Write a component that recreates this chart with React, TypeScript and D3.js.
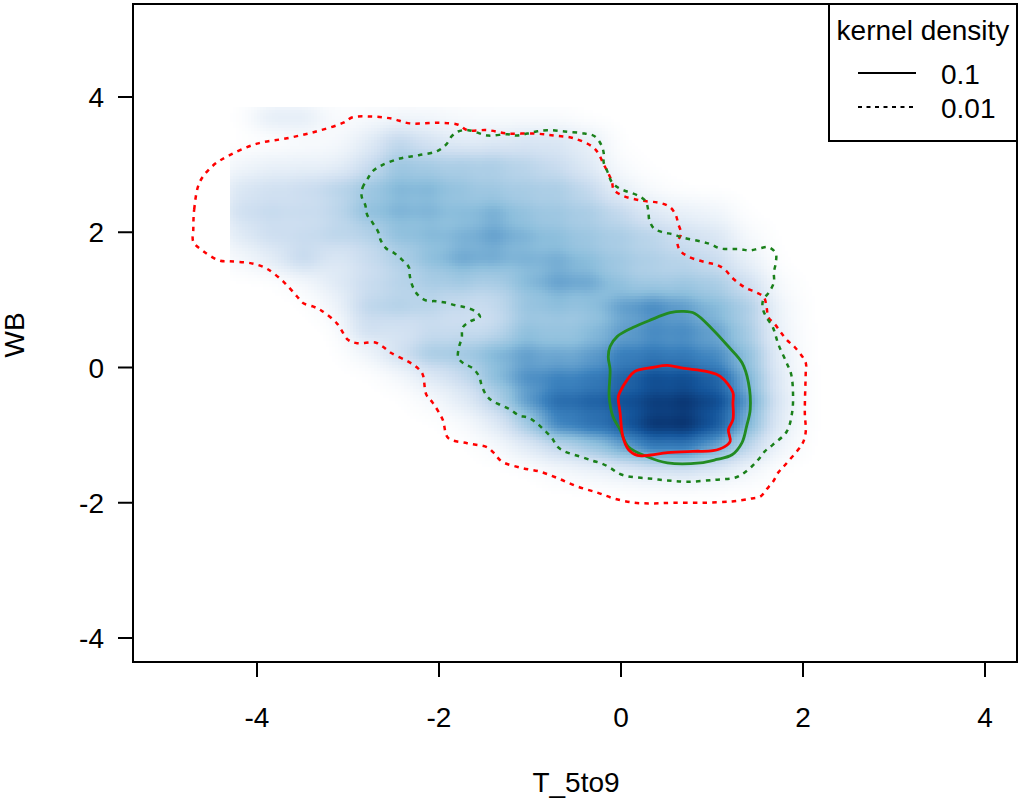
import React from "react";
import * as d3 from "d3";

type P = [number, number];
const W = 1024, H = 806;
const xTicks = [-4, -2, 0, 2, 4];
const yTicks = [-4, -2, 0, 2, 4];

const red01: P[] = [[-4.70,2.04],[-4.69,2.34],[-4.63,2.74],[-4.48,2.99],[-4.30,3.14],[-4.00,3.31],[-3.67,3.39],[-3.35,3.49],[-3.05,3.62],[-2.95,3.70],[-2.73,3.71],[-2.52,3.68],[-2.32,3.61],[-1.99,3.62],[-1.79,3.59],[-1.69,3.51],[-1.47,3.51],[-1.24,3.46],[-0.95,3.46],[-0.73,3.43],[-0.52,3.39],[-0.32,3.27],[-0.25,3.17],[-0.20,3.03],[-0.15,2.90],[-0.10,2.75],[-0.08,2.63],[0.02,2.54],[0.22,2.47],[0.44,2.43],[0.54,2.37],[0.60,2.26],[0.63,2.12],[0.66,1.98],[0.62,1.85],[0.65,1.73],[0.74,1.64],[0.95,1.55],[1.05,1.52],[1.14,1.45],[1.22,1.33],[1.30,1.24],[1.38,1.17],[1.49,1.11],[1.57,1.04],[1.60,0.89],[1.62,0.74],[1.69,0.64],[1.82,0.41],[1.91,0.30],[2.03,0.07],[2.03,-0.07],[2.02,-0.67],[2.03,-0.95],[2.00,-1.11],[1.95,-1.21],[1.81,-1.43],[1.73,-1.55],[1.67,-1.69],[1.60,-1.80],[1.53,-1.91],[1.42,-1.94],[1.22,-1.98],[0.90,-2.00],[0.57,-2.00],[0.35,-2.01],[0.15,-2.00],[-0.07,-1.94],[-0.26,-1.85],[-0.48,-1.76],[-0.69,-1.64],[-0.89,-1.54],[-1.11,-1.48],[-1.31,-1.39],[-1.40,-1.26],[-1.47,-1.18],[-1.69,-1.12],[-1.90,-1.04],[-1.96,-0.77],[-2.07,-0.52],[-2.14,-0.40],[-2.18,-0.10],[-2.24,0.00],[-2.34,0.09],[-2.52,0.21],[-2.62,0.31],[-2.70,0.37],[-2.90,0.36],[-3.00,0.41],[-3.12,0.65],[-3.29,0.84],[-3.38,0.90],[-3.49,0.95],[-3.56,1.05],[-3.71,1.27],[-3.89,1.46],[-4.00,1.52],[-4.10,1.55],[-4.30,1.57],[-4.41,1.58],[-4.59,1.72],[-4.70,1.86]];

const green01: P[] = [[-2.85,2.53],[-2.84,2.66],[-2.78,2.80],[-2.73,2.90],[-2.63,2.99],[-2.43,3.09],[-2.22,3.14],[-2.02,3.20],[-1.92,3.30],[-1.86,3.42],[-1.79,3.49],[-1.68,3.51],[-1.46,3.43],[-1.25,3.45],[-1.14,3.43],[-1.03,3.46],[-0.93,3.49],[-0.81,3.51],[-0.62,3.49],[-0.40,3.46],[-0.29,3.42],[-0.22,3.30],[-0.19,3.17],[-0.19,3.03],[-0.15,2.90],[-0.10,2.74],[-0.02,2.65],[0.19,2.54],[0.27,2.46],[0.30,2.32],[0.31,2.19],[0.36,2.06],[0.46,2.00],[0.57,1.97],[0.68,1.92],[0.89,1.86],[0.99,1.82],[1.09,1.76],[1.31,1.75],[1.41,1.73],[1.52,1.76],[1.62,1.78],[1.70,1.69],[1.70,1.54],[1.68,1.41],[1.68,1.26],[1.63,1.12],[1.56,0.99],[1.56,0.86],[1.60,0.74],[1.67,0.59],[1.73,0.34],[1.82,0.07],[1.87,-0.10],[1.89,-0.37],[1.88,-0.67],[1.82,-0.95],[1.67,-1.14],[1.58,-1.24],[1.51,-1.36],[1.44,-1.46],[1.34,-1.57],[1.25,-1.63],[1.03,-1.66],[0.73,-1.69],[0.51,-1.67],[0.30,-1.64],[0.08,-1.61],[-0.02,-1.57],[-0.11,-1.49],[-0.21,-1.42],[-0.31,-1.38],[-0.42,-1.33],[-0.62,-1.24],[-0.70,-1.17],[-0.76,-1.04],[-0.84,-0.93],[-0.92,-0.83],[-1.02,-0.74],[-1.12,-0.71],[-1.22,-0.62],[-1.31,-0.56],[-1.41,-0.50],[-1.48,-0.41],[-1.53,-0.27],[-1.56,-0.13],[-1.63,-0.01],[-1.73,0.06],[-1.79,0.15],[-1.78,0.30],[-1.75,0.44],[-1.74,0.59],[-1.66,0.68],[-1.55,0.75],[-1.60,0.83],[-1.71,0.89],[-1.82,0.92],[-1.93,0.96],[-2.03,0.98],[-2.14,0.99],[-2.23,1.07],[-2.29,1.20],[-2.32,1.35],[-2.33,1.48],[-2.41,1.60],[-2.49,1.69],[-2.58,1.76],[-2.64,1.88],[-2.67,2.01],[-2.73,2.14],[-2.79,2.26],[-2.81,2.40]];

const green1: P[] = [[-0.14,0.16],[-0.12,-0.03],[-0.13,-0.43],[-0.09,-0.72],[-0.01,-0.92],[0.08,-1.17],[0.29,-1.32],[0.51,-1.41],[0.87,-1.41],[1.05,-1.36],[1.22,-1.29],[1.33,-1.11],[1.38,-0.87],[1.42,-0.62],[1.40,-0.22],[1.33,0.07],[1.18,0.31],[1.01,0.56],[0.81,0.80],[0.68,0.83],[0.54,0.81],[0.32,0.70],[0.13,0.59],[-0.04,0.46],[-0.12,0.31]];

const red1: P[] = [[-0.03,-0.44],[-0.01,-0.67],[0.02,-1.02],[0.08,-1.21],[0.18,-1.30],[0.29,-1.30],[0.51,-1.26],[0.79,-1.24],[1.01,-1.23],[1.14,-1.17],[1.20,-1.09],[1.18,-0.92],[1.23,-0.77],[1.23,-0.52],[1.23,-0.37],[1.09,-0.13],[0.95,-0.06],[0.68,-0.01],[0.51,0.03],[0.35,0.00],[0.15,-0.06],[0.07,-0.18],[-0.01,-0.36]];

// density at a coarse lattice of points
const gridX = [-4.2,-3.85,-3.5,-3.15,-2.8,-2.45,-2.1,-1.75,-1.4,-1.05,-0.7,-0.35,0,0.35,0.7,1.05,1.4,1.75];
const gridY = [3.7,3.35,3.0,2.65,2.3,1.95,1.6,1.25,0.9,0.55,0.2,-0.15,-0.5,-0.85,-1.2,-1.55];
const gridValues = [
  [0,.12,.12,.02,.03,.05,.05,.03,.02,.02,.02,0,0,0,0,0,0,0],
  [0,0,.02,.03,.1,.25,.15,.1,.12,.15,.15,.1,0,0,0,0,0,0],
  [.05,.08,.08,.08,.18,.35,.3,.3,.3,.25,.2,.12,.02,0,0,0,0,0],
  [.15,.18,.2,.25,.33,.42,.42,.35,.32,.3,.3,.22,.08,.02,0,0,0,0],
  [.2,.22,.2,.22,.38,.43,.42,.38,.45,.35,.33,.3,.22,.12,.08,.06,0,0],
  [.12,.2,.2,.25,.25,.38,.4,.42,.5,.42,.38,.33,.3,.25,.18,.15,.03,0],
  [.04,.1,.25,.12,.2,.28,.38,.48,.45,.42,.45,.38,.32,.28,.25,.2,.08,0],
  [0,0,.03,.12,.2,.25,.3,.32,.28,.4,.5,.48,.35,.3,.33,.3,.18,.02],
  [0,0,0,.05,.25,.28,.25,.2,.2,.35,.38,.35,.5,.58,.5,.4,.3,.05],
  [0,0,0,0,.2,.15,.2,.2,.2,.38,.33,.38,.48,.55,.55,.48,.3,.06],
  [0,0,0,0,.05,.18,.33,.33,.42,.5,.45,.48,.6,.62,.6,.55,.38,.08],
  [0,0,0,0,0,.03,.12,.2,.38,.55,.58,.6,.7,.82,.82,.72,.42,.1],
  [0,0,0,0,0,0,.03,.1,.25,.5,.7,.72,.8,.9,.95,.85,.5,.12],
  [0,0,0,0,0,0,0,.02,.1,.3,.6,.65,.75,.98,1,.78,.42,.1],
  [0,0,0,0,0,0,0,0,.02,.1,.2,.3,.45,.6,.6,.45,.22,.05],
  [0,0,0,0,0,0,0,0,0,0,.03,.05,.08,.12,.14,.1,.04,0],
];
const kernel = { sx: .18, sy: .17, norm: 1.57 };
const densityLimits = { x: [-4.3, 2.4], y: [-2.4, 3.85] };
const rampStops = ["#ffffff", "#cddef0", "#8cbedc", "#3c82be", "#14559b", "#08306b"];

const x = d3.scaleLinear().domain([-4, 4]).range([257, 985]);
const y = d3.scaleLinear().domain([-4, 4]).range([638, 97]);
const ramp = d3.scaleLinear<string>().domain([0, .2, .4, .6, .8, 1]).range(rampStops).clamp(true);
const closed = d3.line<P>().x(d => x(d[0])).y(d => y(d[1])).curve(d3.curveCatmullRomClosed.alpha(0.5));

const density = (a: number, b: number) => {
  let s = 0;
  gridValues.forEach((row, j) => row.forEach((v, i) => {
    if (v > 0) s += v * Math.exp(-((a - gridX[i]) ** 2) / (2 * kernel.sx ** 2) - ((b - gridY[j]) ** 2) / (2 * kernel.sy ** 2));
  }));
  return s / kernel.norm;
};

const cellPx = 3;
const cols = d3.range(x(densityLimits.x[0]), x(densityLimits.x[1]), cellPx);
const rows = d3.range(y(densityLimits.y[1]), y(densityLimits.y[0]), cellPx);
const cells = rows.flatMap(py => cols.map(px => ({
  px, py, v: density(x.invert(px + cellPx / 2), y.invert(py + cellPx / 2)),
}))).filter(c => c.v > 0.004);

const font = "'Liberation Sans', Arial, sans-serif";
const fs = 28;

export default function App() {
  return (
    <svg width={W} height={H} viewBox={`0 0 ${W} ${H}`} style={{ position: "absolute", left: 0, top: 0, display: "block", background: "#fff" }} fontFamily={font} fontSize={fs}>
      <g shapeRendering="crispEdges">
        {cells.map((c, i) => <rect key={i} x={c.px} y={c.py} width={cellPx} height={cellPx} fill={ramp(c.v)} />)}
      </g>
      <g fill="none" strokeLinejoin="round">
        <path d={closed(red01)!} stroke="#ff0000" strokeWidth={2.5} strokeDasharray="4.5 5.2" />
        <path d={closed(green01)!} stroke="#1a801a" strokeWidth={2.5} strokeDasharray="4.5 5.2" />
        <path d={closed(green1)!} stroke="#228b22" strokeWidth={2.8} />
        <path d={closed(red1)!} stroke="#ff0000" strokeWidth={2.8} />
      </g>
      <rect x={133} y={4} width={884} height={658} fill="none" stroke="#000" strokeWidth={2} />
      {xTicks.map(t => (
        <g key={t}>
          <line x1={x(t)} x2={x(t)} y1={662} y2={677} stroke="#000" strokeWidth={2} />
          <text x={x(t)} y={727} textAnchor="middle">{t}</text>
        </g>
      ))}
      {yTicks.map(t => (
        <g key={t}>
          <line x1={118} x2={133} y1={y(t)} y2={y(t)} stroke="#000" strokeWidth={2} />
          <text x={104} y={y(t) + 10} textAnchor="end">{t}</text>
        </g>
      ))}
      <text x={576} y={792} textAnchor="middle">T_5to9</text>
      <text transform="translate(24,335) rotate(-90)" textAnchor="middle">WB</text>
      <rect x={829} y={4} width={188} height={137} fill="#fff" stroke="#000" strokeWidth={2} />
      <text x={923} y={40} textAnchor="middle">kernel density</text>
      <line x1={858} x2={916} y1={73} y2={73} stroke="#000" strokeWidth={2} />
      <line x1={858} x2={916} y1={107} y2={107} stroke="#000" strokeWidth={2} strokeDasharray="4 4.5" />
      <text x={941} y={84}>0.1</text>
      <text x={941} y={118}>0.01</text>
    </svg>
  );
}
